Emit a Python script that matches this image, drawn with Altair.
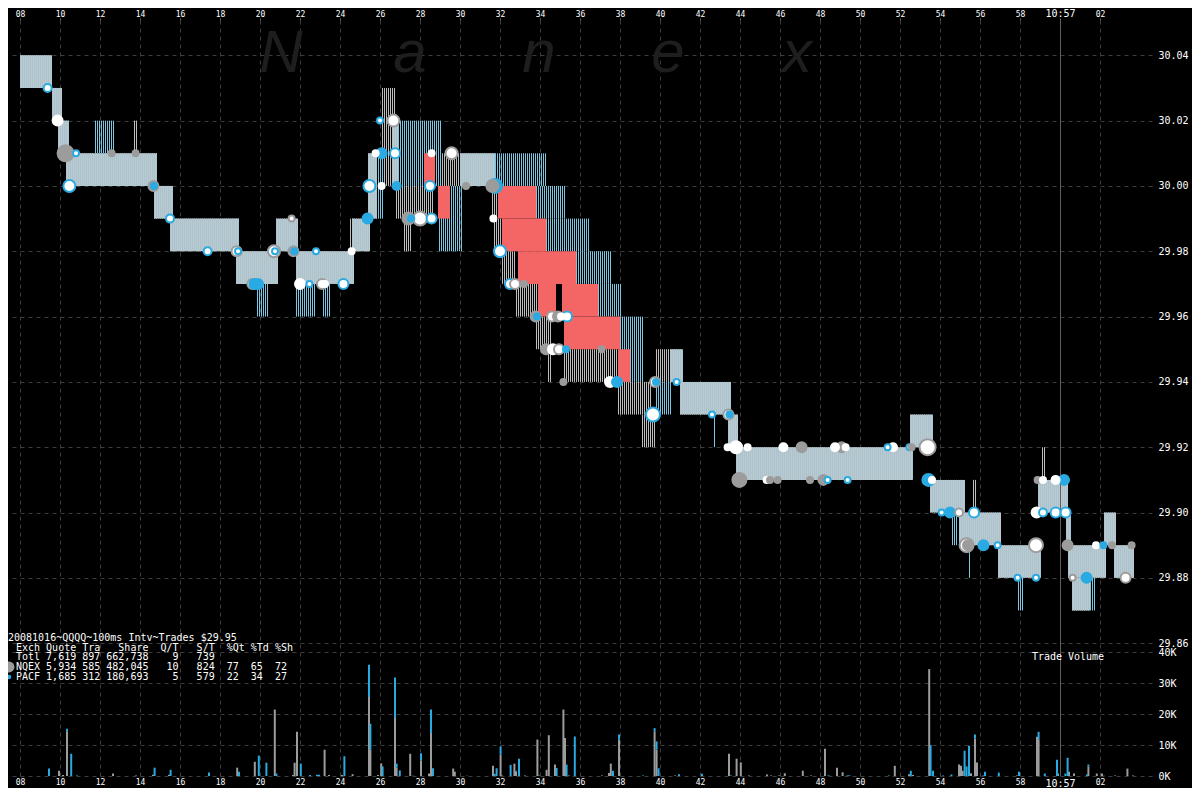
import altair as alt
import pandas as pd

# ---------------- data (time = seconds after 10:56:00, 60 = 10:57:00) ----------------
# quote ranges (t0, t1, low, high)
solid_boxes = [
    (8.0, 9.6, 30.03, 30.04), (9.6, 10.1, 30.02, 30.03), (9.9, 10.45, 30.01, 30.02),
    (10.3, 14.85, 30.00, 30.01), (14.7, 15.6, 29.99, 30.00), (15.5, 18.95, 29.98, 29.99),
    (18.8, 20.9, 29.97, 29.98), (20.8, 21.9, 29.98, 29.99), (21.8, 23.3, 29.97, 29.98),
    (23.3, 24.7, 29.97, 29.98), (24.6, 25.5, 29.98, 29.99), (25.4, 25.85, 29.99, 30.01),
    (26.6, 26.9, 30.00, 30.02), (30.0, 31.75, 30.00, 30.01), (40.5, 41.1, 29.94, 29.95),
    (41.0, 43.55, 29.93, 29.94), (43.4, 43.9, 29.92, 29.93), (43.8, 52.6, 29.91, 29.92),
    (52.5, 53.6, 29.92, 29.93), (53.5, 55.2, 29.90, 29.91), (54.95, 57.05, 29.89, 29.90),
    (56.9, 59.0, 29.88, 29.89), (58.9, 60.4, 29.90, 29.91), (60.3, 60.5, 29.89, 29.90),
    (60.4, 62.3, 29.88, 29.89), (60.6, 61.5, 29.87, 29.88), (62.2, 62.8, 29.89, 29.90),
    (62.7, 63.7, 29.88, 29.89),
]
blue_boxes = [
    (11.75, 12.7, 30.01, 30.02), (19.85, 20.45, 29.96, 29.97), (21.8, 22.8, 29.96, 29.97),
    (23.15, 23.45, 29.96, 29.97), (25.8, 26.1, 29.99, 30.01), (26.9, 29.0, 30.00, 30.02),
    (28.95, 30.1, 29.98, 30.00), (31.75, 34.3, 30.00, 30.01), (33.8, 35.3, 29.99, 30.00),
    (34.3, 36.4, 29.98, 29.99), (35.8, 37.5, 29.97, 29.98), (36.9, 38.0, 29.96, 29.97),
    (38.0, 39.1, 29.94, 29.96), (39.8, 40.5, 29.93, 29.94), (42.7, 42.8, 29.92, 29.93),
    (54.6, 54.9, 29.89, 29.90), (55.45, 55.55, 29.88, 29.89), (57.9, 58.1, 29.87, 29.88),
    (61.5, 61.7, 29.87, 29.88),
]
gray_boxes = [
    (13.7, 13.8, 30.01, 30.02), (24.5, 24.6, 29.98, 29.99), (26.1, 26.75, 30.00, 30.03),
    (26.8, 28.6, 29.99, 30.00), (27.2, 27.55, 29.98, 29.99), (29.0, 30.0, 30.00, 30.01),
    (31.6, 31.9, 29.99, 30.00), (31.7, 32.1, 29.98, 29.99), (32.1, 32.8, 29.97, 29.98),
    (32.8, 33.9, 29.96, 29.97), (33.8, 34.5, 29.95, 29.96), (34.4, 34.5, 29.94, 29.95),
    (35.2, 37.9, 29.94, 29.95), (37.9, 39.5, 29.93, 29.94), (39.8, 40.5, 29.94, 29.95),
    (39.1, 39.7, 29.92, 29.93), (55.65, 55.75, 29.90, 29.91), (59.1, 59.25, 29.91, 29.92),
]
red_boxes = [
    (28.2, 28.75, 30.00, 30.01), (28.9, 29.5, 29.99, 30.00), (31.9, 33.8, 29.99, 30.00),
    (32.1, 34.3, 29.98, 29.99), (32.9, 35.8, 29.97, 29.98), (33.9, 34.8, 29.96, 29.97),
    (35.1, 36.9, 29.96, 29.97), (35.2, 38.0, 29.95, 29.96), (37.9, 38.5, 29.94, 29.95),
]
# trades (t, price, style, marker radius)
trades = [
    (9.38, 30.03, "PW", 4), (9.88, 30.02, "W", 5), (10.28, 30.01, "N", 8), (10.8, 30.01, "PW", 3),
    (10.47, 30.00, "PW", 6), (12.58, 30.01, "N", 3), (13.78, 30.01, "N", 3), (14.67, 30.00, "N", 5),
    (14.7, 30.00, "P", 3), (15.5, 29.99, "PW", 4), (17.38, 29.98, "PW", 4), (18.83, 29.98, "NW", 5),
    (18.9, 29.98, "PW", 3), (19.62, 29.97, "NW", 5), (19.72, 29.97, "P", 5), (19.9, 29.97, "P", 5),
    (20.7, 29.98, "NW", 6), (20.75, 29.98, "PW", 3), (21.58, 29.99, "NW", 3), (21.67, 29.98, "N", 5),
    (21.72, 29.98, "P", 3), (22.0, 29.97, "W", 5), (22.47, 29.97, "PW", 3), (22.8, 29.98, "PW", 3),
    (23.1, 29.97, "NW", 5), (23.25, 29.97, "W", 3), (24.17, 29.97, "PW", 5), (24.58, 29.98, "W", 3),
    (25.38, 29.99, "P", 5), (25.47, 30.00, "PW", 6), (25.78, 30.01, "W", 3), (26.08, 30.01, "P", 5),
    (26.08, 30.00, "W", 3), (26.0, 30.02, "PW", 3), (26.67, 30.02, "NW", 6), (26.75, 30.01, "PW", 5),
    (26.83, 30.00, "P", 4), (27.42, 29.99, "N", 6), (27.55, 29.99, "P", 3), (28.0, 29.99, "NW", 7),
    (28.58, 29.99, "PW", 5), (28.5, 30.00, "PW", 5), (28.58, 30.01, "W", 3), (29.58, 30.01, "NW", 6),
    (30.3, 30.00, "N", 3), (31.62, 30.00, "N", 6), (31.75, 30.00, "P", 7), (31.67, 29.99, "W", 3),
    (32.0, 29.98, "PW", 6), (32.5, 29.97, "PW", 5), (32.75, 29.97, "NW", 5), (33.2, 29.97, "N", 3),
    (33.78, 29.96, "N", 5), (33.85, 29.96, "P", 3), (34.6, 29.96, "NW", 5), (34.9, 29.96, "N", 5),
    (35.05, 29.96, "W", 3), (35.35, 29.96, "PW", 5), (34.3, 29.95, "N", 5), (34.65, 29.95, "W", 5),
    (34.95, 29.95, "NW", 5), (35.3, 29.95, "P", 3), (37.08, 29.95, "N", 3), (35.17, 29.94, "N", 3),
    (37.5, 29.94, "W", 5), (37.85, 29.94, "P", 5), (39.75, 29.94, "NW", 5), (39.8, 29.94, "P", 3),
    (40.83, 29.94, "PW", 3), (39.65, 29.93, "PW", 7), (42.6, 29.93, "PW", 3), (43.42, 29.93, "NW", 5),
    (43.47, 29.93, "P", 3), (43.38, 29.92, "W", 3), (43.8, 29.92, "W", 6), (44.38, 29.92, "W", 3),
    (43.97, 29.91, "N", 7), (45.33, 29.91, "W", 3), (45.5, 29.91, "N", 3), (45.88, 29.91, "N", 3),
    (46.17, 29.92, "W", 4), (47.08, 29.92, "N", 5), (47.5, 29.91, "N", 3), (48.17, 29.91, "N", 5),
    (48.38, 29.91, "PW", 3), (48.75, 29.92, "W", 4), (49.08, 29.92, "N", 5), (49.28, 29.92, "W", 3),
    (49.38, 29.91, "PW", 3), (51.38, 29.92, "PW", 3), (51.65, 29.92, "W", 4), (52.47, 29.92, "PW", 3),
    (52.58, 29.92, "N", 3), (53.38, 29.92, "NW", 8), (53.42, 29.91, "P", 6), (53.6, 29.91, "W", 3),
    (54.08, 29.90, "PW", 3), (54.5, 29.90, "P", 5), (54.95, 29.90, "NW", 4), (55.7, 29.90, "PW", 5),
    (55.33, 29.89, "NW", 7), (55.4, 29.89, "N", 5), (56.17, 29.89, "P", 5), (56.88, 29.89, "PW", 3),
    (57.88, 29.88, "PW", 3), (58.8, 29.88, "PW", 3), (58.8, 29.89, "NW", 7), (58.88, 29.91, "N", 3),
    (59.15, 29.91, "W", 3), (59.78, 29.91, "W", 4), (60.2, 29.91, "P", 5), (58.83, 29.90, "W", 5),
    (59.15, 29.90, "PW", 4), (59.78, 29.90, "PW", 5), (60.28, 29.90, "PW", 5), (60.38, 29.89, "N", 5),
    (60.63, 29.88, "NW", 3), (61.33, 29.88, "P", 5), (61.8, 29.89, "W", 3), (62.17, 29.89, "P", 3),
    (62.6, 29.89, "N", 3), (63.58, 29.89, "N", 3), (63.28, 29.88, "NW", 5),
]
# trade volume per 100ms interval, thousands of shares (t, K)
vol_nqex = [
    (9.95, 1.7), (10.15, 0.3), (10.35, 14.5), (12.65, 0.8), (13.8, 0.2), (14.65, 0.4), (15.45, 0.4),
    (18.86, 2.7), (19.74, 4.6), (20.74, 21.5), (21.65, 0.3), (21.73, 4.3), (21.85, 14.3), (23.23, 8.5),
    (23.45, 0.3), (24.1, 0.3), (24.63, 0.6), (25.45, 25.6), (25.52, 8.5), (25.9, 0.3), (26.06, 4.1),
    (26.75, 18.8), (26.83, 2.7), (27.51, 7.2), (27.65, 0.1), (28.05, 5.0), (28.45, 0.8), (28.55, 13.9),
    (29.66, 2.4), (29.74, 1.4), (30.35, 0.1), (31.65, 3.3), (32.03, 6.9), (32.1, 0.2), (32.72, 4.0),
    (32.8, 1.4), (33.25, 0.2), (33.87, 11.8), (34.33, 2.0), (34.44, 13.2), (34.75, 3.7), (35.17, 21.5),
    (35.25, 12.3), (35.45, 0.2), (37.1, 0.2), (37.45, 1.0), (37.54, 4.0), (37.95, 11.8), (39.73, 14.5),
    (39.83, 8.5), (40.75, 0.2), (43.45, 7.2), (43.83, 5.6), (44.04, 4.4), (44.45, 0.2), (45.35, 0.5),
    (45.55, 0.2), (45.95, 0.2), (46.24, 0.9), (47.14, 1.7), (47.55, 0.2), (48.25, 8.8), (48.85, 2.7),
    (49.13, 1.2), (51.74, 3.3), (52.45, 0.6), (52.65, 0.3), (53.46, 34.6), (54.95, 3.7), (55.05, 3.3),
    (55.13, 1.7), (55.55, 0.9), (55.75, 12.1), (55.85, 4.4), (57.85, 0.2), (58.85, 12.7), (58.93, 11.9),
    (59.9, 0.8), (60.45, 1.4), (60.7, 0.8), (61.42, 3.1), (61.84, 0.8), (62.1, 0.8), (62.75, 0.2),
    (63.37, 2.4), (63.65, 0.2),
]
vol_pacf = [
    (9.45, 2.4), (10.35, 0.8), (10.56, 7.2), (10.85, 0.2), (14.73, 2.7), (15.53, 2.0), (17.45, 1.1),
    (18.95, 1.4), (19.94, 6.6), (20.32, 4.3), (20.82, 0.8), (22.04, 4.0), (22.5, 0.3), (22.85, 0.4),
    (22.95, 0.4), (24.22, 6.4), (25.45, 10.4), (25.52, 8.4), (26.13, 3.1), (26.75, 13.1), (26.83, 1.3),
    (26.99, 1.8), (28.05, 2.4), (28.55, 7.6), (28.65, 2.5), (31.73, 0.7), (31.83, 2.5), (32.03, 2.7),
    (32.53, 3.6), (32.8, 0.3), (32.95, 5.6), (33.95, 0.2), (34.83, 2.6), (35.33, 3.7), (35.74, 12.8),
    (37.65, 1.7), (37.95, 1.6), (39.15, 0.2), (39.73, 1.0), (39.83, 2.7), (39.93, 2.5), (40.95, 0.6),
    (42.1, 0.7), (43.53, 0.2), (48.43, 0.2), (49.38, 0.2), (49.47, 0.2), (51.45, 0.2), (52.54, 1.7),
    (53.53, 10.0), (53.65, 1.7), (54.15, 0.2), (54.57, 0.5), (55.23, 8.2), (55.33, 3.1), (55.45, 9.8),
    (55.75, 1.3), (56.15, 0.2), (56.25, 1.4), (56.94, 1.1), (57.95, 1.4), (58.93, 2.4), (59.24, 0.8),
    (59.85, 5.3), (60.27, 0.8), (60.38, 5.9), (61.35, 0.5), (61.42, 0.6), (62.2, 0.1),
]
tick_seconds = list(range(8, 63, 2))
price_ticks = [29.86, 29.88, 29.90, 29.92, 29.94, 29.96, 29.98, 30.00, 30.02, 30.04]
volume_ticks = [0, 10, 20, 30, 40]
minute_marks = [60]
legend_lines = [
    "20081016~QQQQ~100ms Intv~Trades $29.95",
    "Exch Quote Tra   Share  Q/T   S/T  %Qt %Td %Sh",
    "Totl 7,619 897 662,738    9   739",
    "NQEX 5,934 585 482,045   10   824  77  65  72",
    "PACF 1,685 312 180,693    5   579  22  34  27",
]
watermark = ["N", "a", "n", "e", "x"]

# ---------------- styling ----------------
FONT = "DejaVu Sans Mono"
GRID = "#3c3c3c"
GRAY = "#9c9c9c"
BLUE = "#2aaae2"
W, H = 1144, 756

xs = alt.Scale(domain=[7.4, 64.6], nice=False, zero=False, padding=0)
ps = alt.Scale(domain=[29.81933, 30.05081], nice=False, zero=False)
vs = alt.Scale(domain=[0, 244.7], nice=False, zero=False)

time_label = ("datum.value == 60 ? '10:57' : "
              "((datum.value % 60) < 10 ? '0' : '') + (datum.value % 60)")
tsize = {"condition": {"test": "datum.value == 60", "value": 10}, "value": 8}

top_axis = alt.Axis(orient="top", values=tick_seconds, labelExpr=time_label, labelFontSize=tsize,
                    labelFont=FONT, labelColor="white", labelPadding=0, tickSize=2,
                    tickColor="#666666", grid=True, gridColor=GRID, gridDash=[4, 4],
                    domain=False, title=None, labelOverlap=False)
bottom_axis = alt.Axis(orient="bottom", values=tick_seconds, labelExpr=time_label, labelFontSize=tsize,
                       labelFont=FONT, labelColor="white", labelPadding=2, ticks=False,
                       grid=False, domain=False, title=None, labelOverlap=False)
price_axis = alt.Axis(orient="right", values=price_ticks, format=".2f", labelFont=FONT,
                      labelFontSize=10, labelColor="white", labelPadding=6, ticks=False,
                      grid=True, gridColor=GRID, gridDash=[4, 4], domain=False, title=None,
                      labelOverlap=False)
vol_axis = alt.Axis(orient="right", values=volume_ticks, labelExpr="datum.value + 'K'",
                    labelFont=FONT, labelFontSize=10, labelColor="white", labelPadding=6,
                    ticks=False, grid=True, gridColor=GRID, gridDash=[4, 4], domain=False,
                    title=None, labelOverlap=False)


def boxes(rows):
    return pd.DataFrame(rows, columns=["t0", "t1", "lo", "hi"])


def stripes(rows, color):
    # one 1px line per 100ms interval inside each quote range
    return (alt.Chart(boxes(rows))
            .transform_calculate(ts="sequence(datum.t0, datum.t1, 0.1)")
            .transform_flatten(["ts"])
            .mark_rule(color=color, strokeWidth=1, xOffset=0.5)
            .encode(x=alt.X("ts:Q", scale=xs, axis=None),
                    y=alt.Y("lo:Q", scale=ps, axis=None), y2="hi"))


solid_base = alt.Chart(boxes(solid_boxes)).mark_rect(color="#c4c7c9").encode(
    x=alt.X("t0:Q", scale=xs, axis=top_axis), x2="t1",
    y=alt.Y("lo:Q", scale=ps, axis=price_axis), y2="hi")
red = alt.Chart(boxes(red_boxes)).mark_rect(color="#f46666").encode(
    x=alt.X("t0:Q", scale=xs, axis=None), x2="t1",
    y=alt.Y("lo:Q", scale=ps, axis=None), y2="hi")

minute = alt.Chart(pd.DataFrame({"t": minute_marks})).mark_rule(
    color="#5e5e5e", strokeWidth=1, xOffset=0.5).encode(x=alt.X("t:Q", scale=xs, axis=None))

tdf = pd.DataFrame(trades, columns=["t", "price", "style", "r"])
styles = ["N", "P", "W", "NW", "PW"]
trade_marks = alt.Chart(tdf).mark_point(shape="circle", filled=True, strokeWidth=2, opacity=1).encode(
    x=alt.X("t:Q", scale=xs, axis=None),
    y=alt.Y("price:Q", scale=ps, axis=None),
    fill=alt.Fill("style:N", scale=alt.Scale(domain=styles,
                  range=[GRAY, BLUE, "white", "white", "white"]), legend=None),
    stroke=alt.Stroke("style:N", scale=alt.Scale(domain=styles,
                      range=[GRAY, BLUE, "white", GRAY, BLUE]), legend=None),
    size=alt.Size("r:Q", scale=alt.Scale(type="pow", exponent=2, domain=[0, 10], range=[0, 400]),
                  legend=None),
    order=alt.Order("r:Q", sort="descending"),
)

vdf = pd.concat([
    pd.DataFrame(vol_nqex, columns=["t", "vol"]).assign(exch="NQEX", ord=0),
    pd.DataFrame(vol_pacf, columns=["t", "vol"]).assign(exch="PACF", ord=1),
])
vol_bars = alt.Chart(vdf).mark_bar(width=2).encode(
    x=alt.X("t:Q", scale=xs, axis=bottom_axis),
    y=alt.Y("vol:Q", scale=vs, axis=vol_axis, stack="zero"),
    color=alt.Color("exch:N", scale=alt.Scale(domain=["NQEX", "PACF"], range=[GRAY, BLUE]),
                    legend=None),
    order=alt.Order("ord:Q"),
)

# watermark letters
wm_layers = []
for i, letter in enumerate(watermark):
    wm_layers.append(
        alt.Chart(pd.DataFrame({"s": [letter]})).mark_text(
            font="Liberation Sans", fontSize=60, fontStyle="italic", color="#1e1e1e",
            baseline="middle", align="center").encode(
            text="s:N", x=alt.value(273 + i * 129), y=alt.value(34)))

# statistics block (non-breaking spaces keep the column alignment)
NBSP = "\u00a0"
text_layers = []
for i, line in enumerate(legend_lines):
    text_layers.append(
        alt.Chart(pd.DataFrame({"s": [line.replace(" ", NBSP)]})).mark_text(
            font=FONT, fontSize=10, color="white", align="left", baseline="middle").encode(
            text="s:N", x=alt.value(0 if i == 0 else 8), y=alt.value(618 + i * 9.7)))

legend_dots = [
    alt.Chart(pd.DataFrame({"e": ["NQEX"]})).mark_point(
        shape="circle", filled=True, color=GRAY, size=120, opacity=1).encode(
        x=alt.value(1), y=alt.value(647)),
    alt.Chart(pd.DataFrame({"e": ["PACF"]})).mark_point(
        shape="circle", filled=True, color=BLUE, size=20, opacity=1).encode(
        x=alt.value(1), y=alt.value(657)),
]
vol_title = alt.Chart(pd.DataFrame({"s": ["Trade Volume"]})).mark_text(
    font=FONT, fontSize=10, color="white", align="center", baseline="middle").encode(
    text="s:N", x=alt.value(1060), y=alt.value(637))

chart = (
    alt.layer(
        *wm_layers,
        solid_base,
        stripes(gray_boxes, "#bdbdbd"),
        stripes(blue_boxes, "#7cc6e2"),
        stripes(solid_boxes, "#a2c6d4"),
        red,
        minute,
        trade_marks,
        vol_bars,
        *text_layers, *legend_dots, vol_title,
    )
    .resolve_scale(y="independent")
    .resolve_axis(x="independent", y="independent")
    .properties(width=W, height=H, background="black",
                padding={"left": 0, "top": 12, "right": 40, "bottom": 12},
                autosize=alt.AutoSizeParams(type="none"))
    .configure_view(stroke=None)
)

chart.save("out.html", embed_options={"renderer": "svg", "actions": False})
